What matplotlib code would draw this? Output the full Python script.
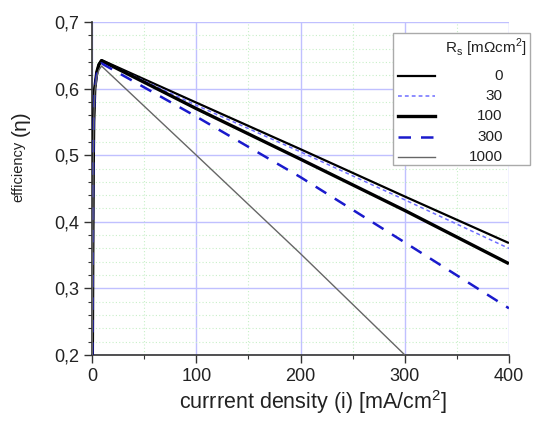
import matplotlib
matplotlib.use("Agg")
import matplotlib.pyplot as plt
from matplotlib.lines import Line2D
from matplotlib.patches import Rectangle
from matplotlib.ticker import MultipleLocator, FuncFormatter

plt.rcParams['font.family'] = ['Liberation Sans', 'DejaVu Sans']
plt.rcParams['mathtext.fontset'] = 'custom'
plt.rcParams['mathtext.rm'] = 'Liberation Sans'

# ---- data ----
rs_labels = ['0', '30', '100', '300', '1000']

i_rs0 = [0.2, 0.6, 1.0, 1.5, 2.5, 4.5, 6.5, 9, 100, 200, 300, 400]
eta_rs0 = [0.2, 0.35, 0.48, 0.55, 0.60, 0.625, 0.637, 0.643, 0.579, 0.509, 0.438, 0.368]

i_rs30 = [0.2, 0.6, 1.0, 1.5, 2.5, 4.5, 6.5, 9, 100, 200, 300, 400]
eta_rs30 = [0.2, 0.35, 0.48, 0.55, 0.60, 0.625, 0.637, 0.642, 0.575, 0.505, 0.433, 0.360]

i_rs100 = [0.2, 0.6, 1.0, 1.5, 2.5, 4.5, 6.5, 9, 100, 200, 300, 400]
eta_rs100 = [0.2, 0.35, 0.48, 0.55, 0.60, 0.625, 0.636, 0.642, 0.570, 0.494, 0.417, 0.337]

i_rs300 = [0.2, 0.6, 1.0, 1.5, 2.5, 4.5, 6.5, 9, 100, 200, 300, 400]
eta_rs300 = [0.2, 0.35, 0.48, 0.55, 0.598, 0.622, 0.633, 0.638, 0.558, 0.467, 0.369, 0.270]

i_rs1000 = [0.2, 0.6, 1.0, 1.5, 2.5, 4.5, 6.5, 9, 100, 200, 300]
eta_rs1000 = [0.2, 0.35, 0.48, 0.55, 0.595, 0.618, 0.628, 0.634, 0.500, 0.352, 0.200]

x_ticks = [0, 100, 200, 300, 400]
y_ticks = [0.2, 0.3, 0.4, 0.5, 0.6, 0.7]

styles = [
    dict(color='black', lw=1.6, ls='-'),
    dict(color='#6e6eff', lw=1.1, ls=(0, (2.5, 2))),
    dict(color='black', lw=2.4, ls='-'),
    dict(color='#1a1acc', lw=1.8, ls=(0, (5, 4))),
    dict(color='#666666', lw=1.0, ls='-'),
]

fig = plt.figure(figsize=(5.55, 4.25), dpi=100)
ax = fig.add_axes([0.166, 0.165, 0.751, 0.783])

series = [(i_rs0, eta_rs0), (i_rs30, eta_rs30), (i_rs100, eta_rs100),
          (i_rs300, eta_rs300), (i_rs1000, eta_rs1000)]
order = [4, 3, 1, 2, 0]
for k in order:
    xs, ys = series[k]
    ax.plot(xs, ys, zorder=3 + k, solid_capstyle='butt', **styles[k])

ax.set_xlim(0, 400)
ax.set_ylim(0.2, 0.7)
ax.set_xticks(x_ticks)
ax.set_yticks(y_ticks)
ax.xaxis.set_minor_locator(MultipleLocator(50))
ax.yaxis.set_minor_locator(MultipleLocator(0.02))
ax.yaxis.set_major_formatter(FuncFormatter(lambda v, p: ('%.1f' % v).replace('.', ',')))

ax.grid(True, which='major', color='#c0c0ff', lw=1.0, ls='-', zorder=0)
ax.grid(True, which='minor', color='#c8f0c8', lw=0.8, ls=(0, (1, 2)), zorder=0)
ax.set_axisbelow(True)

for s in ['top', 'right']:
    ax.spines[s].set_visible(False)
for s in ['left', 'bottom']:
    ax.spines[s].set_color('#333333')
    ax.spines[s].set_linewidth(1.2)

ax.tick_params(which='major', direction='out', length=6, width=1.0, color='#333333',
               labelsize=13, labelcolor='#222222')
ax.tick_params(which='minor', direction='out', length=3, width=0.8, color='#333333')

ax.set_xlabel('currrent density (i) [mA/cm$^2$]', fontsize=15.5, color='#222222')
ax.xaxis.set_label_coords(0.53, -0.1)

fig.text(0.034, 0.597, 'efficiency', rotation=90, ha='center', va='center',
         fontsize=10.5, color='#222222')
fig.text(0.036, 0.71, '(η)', rotation=90, ha='center', va='center',
         fontsize=15, color='#222222')

# ---- legend (manual, right-aligned labels) ----
lx0, lx1 = 0.722, 1.05
ly0, ly1 = 0.571, 0.967
ax.add_patch(Rectangle((lx0, ly0), lx1 - lx0, ly1 - ly0, transform=ax.transAxes,
                       facecolor='white', edgecolor='#aaaaaa', lw=1.0, zorder=20,
                       clip_on=False))
ax.text(1.043, 0.922, r'R$_\mathrm{s}$ [mΩcm$^2$]', transform=ax.transAxes,
        ha='right', va='center', fontsize=11, color='#222222', zorder=21)
row_y = [0.838, 0.778, 0.718, 0.655, 0.595]
for k in range(5):
    yy = row_y[k]
    ax.add_line(Line2D([0.734, 0.823], [yy, yy], transform=ax.transAxes,
                       zorder=21, clip_on=False, **styles[k]))
    ax.text(0.985, yy, rs_labels[k], transform=ax.transAxes, ha='right',
            va='center', fontsize=11, color='#222222', zorder=21)

fig.savefig('out.png', dpi=100)
